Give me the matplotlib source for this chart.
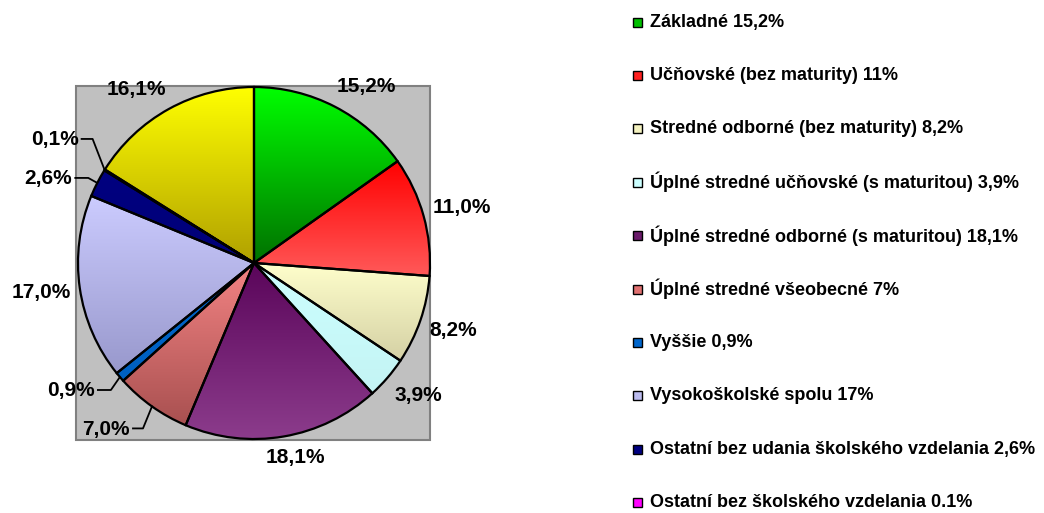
import numpy as np
import matplotlib
matplotlib.use("Agg")
import matplotlib.pyplot as plt
from matplotlib.patches import Rectangle
from matplotlib.colors import to_rgb

# ---- data ----
values = [15.2, 11.0, 8.2, 3.9, 18.1, 7.0, 0.9, 17.0, 2.6, 0.1, 16.1]
pct_labels = ["15,2%", "11,0%", "8,2%", "3,9%", "18,1%", "7,0%", "0,9%",
              "17,0%", "2,6%", "0,1%", "16,1%"]
legend_labels = [
    "Základné 15,2%",
    "Učňovské (bez maturity) 11%",
    "Stredné odborné (bez maturity) 8,2%",
    "Úplné stredné učňovské (s maturitou) 3,9%",
    "Úplné stredné odborné (s maturitou) 18,1%",
    "Úplné stredné všeobecné 7%",
    "Vyššie 0,9%",
    "Vysokoškolské spolu 17%",
    "Ostatní bez udania školského vzdelania 2,6%",
    "Ostatní bez školského vzdelania 0.1%",
]
# gradient colours (top, bottom) per slice
top_colors = ["#00FF00", "#FF0000", "#FFFFCC", "#CCFFFF", "#5A055A", "#F48484",
              "#0066CC", "#CCCCFF", "#000080", "#FF00FF", "#FFFF00"]
bottom_colors = ["#007000", "#FF5A5A", "#D4D0A4", "#C4F4F4", "#8C3C8C", "#A85050",
                 "#0060C0", "#9898CC", "#000078", "#FF00FF", "#B0A000"]
legend_colors = ["#00C000", "#FF2020", "#F4F2C0", "#CCFFFF", "#6A1A6A", "#E07070",
                 "#0066CC", "#BBBBEE", "#000080", "#FF00FF"]

# leader-line labels: index -> (elbow dx, elbow dy, horizontal length) in pixels (y up)
leaders = {5: (-9, -22, 10), 6: (-9, -13, 13), 8: (-9, 5, 13), 9: (-12, 31, 11)}

W, H = 1044, 513
fig = plt.figure(figsize=(W / 100, H / 100), dpi=100)
ax = fig.add_axes([0, 0, 1, 1])
ax.set_xlim(0, W)
ax.set_ylim(0, H)
ax.set_axis_off()

cx, cy, R = 254, H - 263, 176
# plot area background
ax.add_patch(Rectangle((76, H - 440), 354, 354, facecolor="#C0C0C0",
                       edgecolor="#808080", lw=1.5, zorder=0))

wedges, _ = ax.pie(values, center=(cx, cy), radius=R, startangle=90,
                   counterclock=False, normalize=True,
                   wedgeprops=dict(facecolor="none", edgecolor="black", lw=1.6),
                   frame=True)
ax.set_xlim(0, W)
ax.set_ylim(0, H)
ax.set_aspect("auto")
ax.set_axis_off()

for w, ct, cb in zip(wedges, top_colors, bottom_colors):
    w.set_zorder(3)
    ext = w.get_path().get_extents()
    n = 128
    t = np.linspace(0, 1, n)[:, None]
    c0, c1 = np.array(to_rgb(cb)), np.array(to_rgb(ct))
    img = (c0 * (1 - t) + c1 * t)[:, None, :]
    im = ax.imshow(img, extent=(ext.x0 - 1, ext.x1 + 1, ext.y0 - 1, ext.y1 + 1),
                   origin="lower", interpolation="bilinear", aspect="auto", zorder=2)
    im.set_clip_path(w)

ax.set_xlim(0, W)
ax.set_ylim(0, H)

lab_font = dict(family="Liberation Sans", weight="bold", fontsize=15)
for i, (w, lab) in enumerate(zip(wedges, pct_labels)):
    ang = np.deg2rad((w.theta1 + w.theta2) / 2)
    dx, dy = np.cos(ang), np.sin(ang)
    ex, ey = cx + R * dx, cy + R * dy
    if i in leaders:
        edx, edy, hl = leaders[i]
        xs = [ex, ex + edx, ex + edx - hl]
        ys = [ey, ey + edy, ey + edy]
        ax.plot(xs, ys, color="black", lw=1.3, zorder=4)
        ax.text(xs[-1] - 3, ys[-1] - 1, lab, ha="right", va="center",
                zorder=5, **lab_font)
    else:
        hw, hh = 5.8 * len(lab), 11
        tx = ex + 10 * dx + hw * np.clip(2 * dx, -1, 1)
        ty = ey + 10 * dy + hh * np.clip(2 * dy, -1, 1)
        ax.text(tx, ty, lab, ha="center", va="center", zorder=5, **lab_font)

# legend
leg_font = dict(family="Liberation Sans", weight="bold", fontsize=13)
for i, (lab, col) in enumerate(zip(legend_labels, legend_colors)):
    y = H - (22 + i * 53.4)
    ax.add_patch(Rectangle((633, y - 4.5), 9, 9, facecolor=col,
                           edgecolor="black", lw=1.0, zorder=3))
    ax.text(650, y, lab, ha="left", va="center", zorder=3, **leg_font)

fig.savefig("out.png", dpi=100)
